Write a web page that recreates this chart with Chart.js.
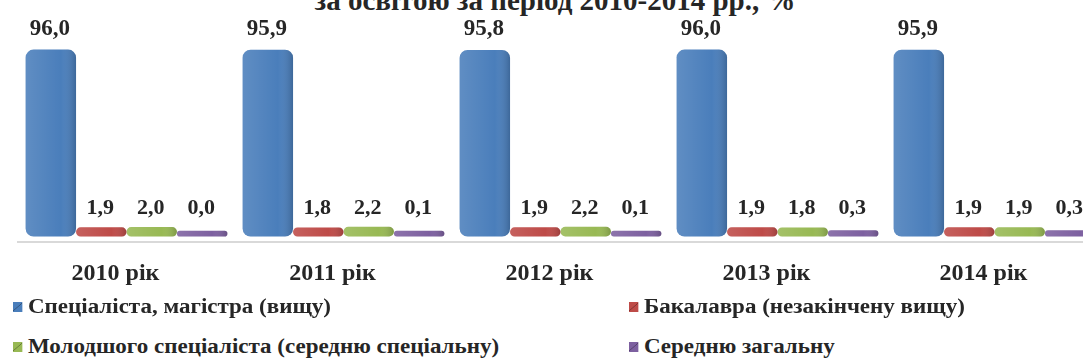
<!DOCTYPE html>
<html lang="uk">
<head>
<meta charset="utf-8">
<script src="https://cdn.jsdelivr.net/npm/chart.js@4.4.1/dist/chart.umd.min.js"></script>
<style>
  html, body { margin: 0; padding: 0; background: #fff; overflow: hidden; }
  body { width: 1083px; height: 361px; position: relative; font-family: "Liberation Serif", "Times New Roman", Tinos, "DejaVu Serif", serif; color: #262626; }
  #title { position: absolute; top: -14px; left: 0; width: 1110px; text-align: center; font-weight: bold; font-size: 29px; line-height: 29px; }
  #wrap { position: absolute; left: 0; top: 0; width: 1110px; height: 305px; }
  #legend { position: absolute; left: 0; top: 296px; width: 1083px; }
  .item { position: absolute; font-weight: bold; font-size: 20px; line-height: 20px; white-space: nowrap; transform: scaleX(1.15); transform-origin: left center; }
  .box { display: inline-block; width: 8px; height: 10px; margin-right: 5px; vertical-align: 1px; }
</style>
</head>
<body>
<div id="title">за освітою за період 2010-2014 рр., %</div>
<div id="wrap"><canvas id="chart"></canvas></div>
<div id="legend"></div>
<script>
// categories and series
const categories = ['2010 рік', '2011 рік', '2012 рік', '2013 рік', '2014 рік'];
const seriesLabels = [
  'Спеціаліста, магістра (вищу)',
  'Бакалавра (незакінчену вищу)',
  'Молодшого спеціаліста (середню спеціальну)',
  'Середню загальну'
];
const specialistMaster = [96.0, 95.9, 95.8, 96.0, 95.9];
const bachelor = [1.9, 1.8, 1.9, 1.9, 1.9];
const juniorSpecialist = [2.0, 2.2, 2.2, 1.8, 1.9];
const secondaryGeneral = [0.0, 0.1, 0.1, 0.3, 0.3];

const colors = ['#4a7ebb', '#be4b48', '#98b954', '#7d60a0'];
const legendPos = [[13, 0], [629, 0], [13, 40], [629, 40]];

const seriesData = [specialistMaster, bachelor, juniorSpecialist, secondaryGeneral];
const serif = '"Liberation Serif", "Times New Roman", Tinos, "DejaVu Serif", serif';

// draws the value above each bar, with a decimal comma;
// the small values of one year share one line, as in the original
const valueLabels = {
  id: 'valueLabels',
  afterDatasetsDraw(chart) {
    const ctx = chart.ctx;
    const metas = chart.data.datasets.map((ds, di) => chart.getDatasetMeta(di));
    ctx.save();
    ctx.fillStyle = '#262626';
    ctx.textAlign = 'center';
    ctx.textBaseline = 'alphabetic';
    chart.data.datasets.forEach((ds, di) => {
      metas[di].data.forEach((bar, i) => {
        const v = ds.data[i];
        const big = v > 10;
        let y = bar.y;
        if (!big) {
          metas.forEach((m, k) => {
            if (chart.data.datasets[k].data[i] <= 10) y = Math.min(y, m.data[i].y);
          });
        }
        ctx.font = 'bold ' + (big ? 23 : 22) + 'px ' + serif;
        ctx.fillText(v.toFixed(1).replace('.', ','), bar.x - 1, y - (big ? 15 : 13));
      });
    });
    ctx.restore();
  }
};

// light-to-dark shading so the bars look a bit like cylinders
const shading = {
  id: 'shading',
  afterDatasetsDraw(chart) {
    const ctx = chart.ctx;
    chart.data.datasets.forEach((ds, di) => {
      chart.getDatasetMeta(di).data.forEach((bar) => {
        const half = bar.width / 2;
        const top = Math.min(bar.y, bar.base);
        const h = Math.abs(bar.base - bar.y);
        const g = ctx.createLinearGradient(bar.x - half, 0, bar.x + half, 0);
        g.addColorStop(0, 'rgba(255,255,255,0.12)');
        g.addColorStop(0.7, 'rgba(255,255,255,0.0)');
        g.addColorStop(1, 'rgba(0,0,0,0.18)');
        ctx.save();
        ctx.beginPath();
        const r = h > 20 ? 8 : Math.min(h / 2, half);
        ctx.roundRect(bar.x - half, top, bar.width, h, r);
        ctx.fillStyle = g;
        ctx.fill();
        ctx.restore();
      });
    });
  }
};

const ctx = document.getElementById('chart').getContext('2d');
const chart = new Chart(ctx, {
  type: 'bar',
  plugins: [shading, valueLabels],
  data: {
    labels: categories,
    datasets: seriesData.map((d, i) => ({
      label: seriesLabels[i],
      data: d,
      base: -3,
      backgroundColor: colors[i],
      borderWidth: 0,
      borderSkipped: false,
      borderRadius: (c) => (c.raw > 10 ? 8 : 30),
      categoryPercentage: 0.93,
      barPercentage: 1.0
    }))
  },
  options: {
    responsive: true,
    maintainAspectRatio: false,
    animation: false,
    layout: { padding: { left: 18, right: 7, top: 42, bottom: 0 } },
    plugins: {
      legend: { display: false },
      tooltip: { enabled: false }
    },
    scales: {
      x: {
        grid: { display: false, drawTicks: false },
        border: { display: true, color: '#d9d9d9', width: 2 },
        ticks: { color: '#262626', padding: 17, labelOffset: -11, font: { family: serif, size: 24, weight: 'bold' } }
      },
      y: {
        display: false,
        min: -6,
        max: 100
      }
    }
  }
});

// two-column legend under the chart
const legend = document.getElementById('legend');
seriesLabels.forEach((label, si) => {
  const el = document.createElement('div');
  el.className = 'item';
  el.style.left = legendPos[si][0] + 'px';
  el.style.top = legendPos[si][1] + 'px';
  const box = document.createElement('span');
  box.className = 'box';
  box.style.background = 'linear-gradient(135deg, ' + colors[si] + ' 45%, rgba(0,0,0,0.35) 50%, ' + colors[si] + ' 55%)';
  box.style.backgroundColor = colors[si];
  el.appendChild(box);
  el.appendChild(document.createTextNode(label));
  legend.appendChild(el);
});
</script>
</body>
</html>
